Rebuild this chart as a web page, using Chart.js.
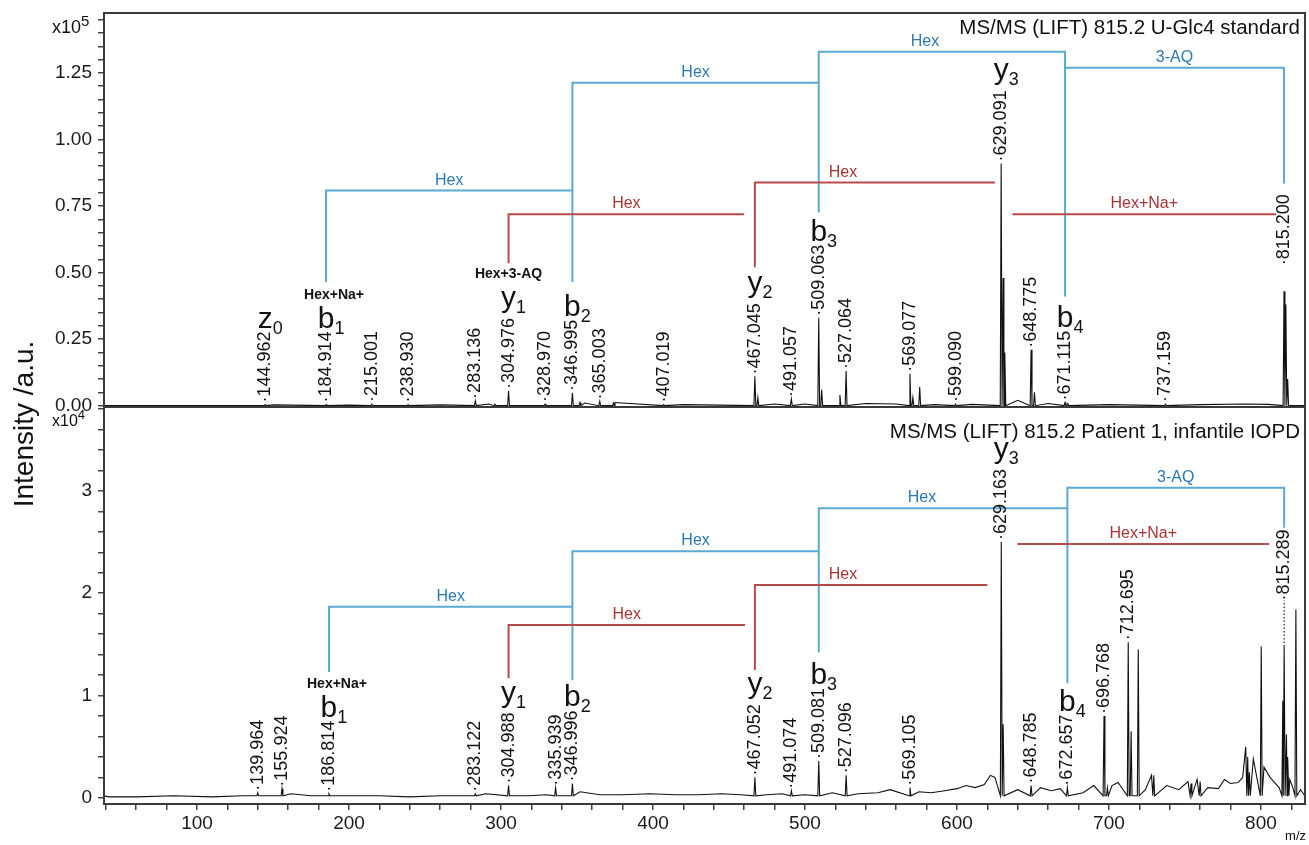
<!DOCTYPE html>
<html>
<head>
<meta charset="utf-8">
<script src="https://cdn.jsdelivr.net/npm/chart.js"></script>
<style>
body { margin: 0; background: #fff; }
#wrap { position: relative; width: 1309px; height: 845px; }
canvas { position: absolute; left: 0; top: 0; }
</style>
</head>
<body>
<div id="wrap">
<canvas id="cnv_top" width="1309" height="845"></canvas>
<canvas id="cnv_bottom" width="1309" height="845"></canvas>
</div>
<script>
const FONT = '"Liberation Sans", Arial, Helvetica, sans-serif'
const BLUE_LINE = '#5aaad3', BLUE_TEXT = '#2b78b4'
const RED_LINE = '#b94a4a', RED_TEXT = '#a93434'

const mzMin = 38.8
const mzMax = 829

// upper spectrum, U-Glc4 standard (x10^5)
const topLabelMz = [144.962, 184.914, 215.001, 238.930, 283.136, 304.976, 328.970, 346.995, 365.003, 407.019,
    467.045, 491.057, 509.063, 527.064, 569.077, 599.090, 629.091, 648.775, 671.115, 737.159, 815.200]
const topLabelInt = [0.004, 0.004, 0.006, 0.004, 0.018, 0.055, 0.006, 0.048, 0.016, 0.004,
    0.11, 0.025, 0.33, 0.13, 0.12, 0.006, 0.91, 0.21, 0.012, 0.006, 0.43]
const topOtherMz = [296, 352, 374, 469, 511, 523, 571, 575.5, 630.4, 631.5, 651, 673, 816.4, 817.6]
const topOtherInt = [0.006, 0.012, 0.01, 0.03, 0.06, 0.04, 0.03, 0.07, 0.48, 0.2, 0.05, 0.008, 0.38, 0.1]
const topNoiseMz = [150, 200, 260, 292, 355, 375, 420, 480, 500, 540, 560, 585, 610, 640, 660, 700, 760, 790, 805]
const topNoiseInt = [0.003, 0.002, 0.003, 0.006, 0.01, 0.012, 0.004, 0.006, 0.006, 0.008, 0.006, 0.004, 0.005, 0.02, 0.008, 0.004, 0.004, 0.006, 0.005]

// lower spectrum, patient 1 (x10^4)
const botLabelMz = [139.964, 155.924, 186.814, 283.122, 304.988, 335.939, 346.996, 467.052, 491.074, 509.081,
    527.096, 569.105, 629.163, 648.785, 672.657, 696.768, 712.695, 815.289]
const botLabelInt = [0.05, 0.09, 0.04, 0.04, 0.12, 0.1, 0.14, 0.2, 0.07, 0.36,
    0.22, 0.1, 2.5, 0.12, 0.1, 0.8, 1.52, 1.48]
const botOtherMz = [630.4, 699, 714.6, 719.3, 729.5, 754, 760, 791.3, 792.4, 800.2, 814.4, 816.8, 817.8, 823.0]
const botOtherInt = [0.72, 0.1, 0.65, 1.45, 0.22, 0.14, 0.16, 0.4, 0.25, 1.48, 0.95, 0.62, 0.4, 1.84]
const botNoiseMz = [42, 60, 85, 110, 130, 145, 162, 175, 200, 220, 240, 260, 275, 290, 318, 330, 352, 365, 380, 398,
    415, 430, 445, 458, 475, 485, 500, 518, 535, 548, 556, 575, 583, 592, 600, 606, 612, 618, 622, 625,
    640, 655, 662, 668, 683, 690, 702, 706, 724, 728, 738, 746, 752, 758, 765, 772, 776, 780, 785, 788,
    790, 795, 802, 806, 809, 812, 819, 821, 826]
const botNoiseInt = [0.01, 0.01, 0.02, 0.01, 0.02, 0.02, 0.04, 0.02, 0.02, 0.02, 0.01, 0.02, 0.02, 0.04, 0.02, 0.03, 0.06, 0.03, 0.03, 0.04,
    0.03, 0.03, 0.04, 0.03, 0.03, 0.04, 0.03, 0.05, 0.04, 0.05, 0.08, 0.06, 0.05, 0.07, 0.09, 0.12, 0.1, 0.13, 0.22, 0.2,
    0.08, 0.1, 0.07, 0.09, 0.05, 0.12, 0.12, 0.15, 0.08, 0.22, 0.12, 0.08, 0.16, 0.18, 0.1, 0.09, 0.18, 0.14, 0.15, 0.2,
    0.5, 0.38, 0.3, 0.2, 0.15, 0.1, 0.18, 0.1, 0.08]

// fragment ladders (levels in panel units)
const topBrackets = [
    { from: 184.914, to: 346.995, level: 0.808, fromBase: 0.465, color: 'blue', text: 'Hex' },
    { from: 346.995, to: 509.063, level: 1.213, fromBase: 0.465, color: 'blue', text: 'Hex' },
    { from: 509.063, to: 671.115, level: 1.329, fromBase: 0.726, toBase: 1.269, color: 'blue', text: 'Hex', at: 579 },
    { from: 671.115, to: 815.2, level: 1.269, fromBase: 0.41, toBase: 0.835, color: 'blue', text: '3-AQ' },
    { from: 304.976, to: 460, level: 0.719, fromBase: 0.535, color: 'red', text: 'Hex' },
    { from: 467.045, to: 625, level: 0.838, fromBase: 0.52, color: 'red', text: 'Hex', at: 525 },
    { from: 636.5, to: 810, level: 0.719, color: 'red', text: 'Hex+Na+' },
]
const botBrackets = [
    { from: 186.814, to: 346.996, level: 1.867, fromBase: 1.23, color: 'blue', text: 'Hex' },
    { from: 346.996, to: 509.081, level: 2.41, fromBase: 1.15, color: 'blue', text: 'Hex' },
    { from: 509.081, to: 672.657, level: 2.83, fromBase: 1.42, color: 'blue', text: 'Hex', at: 577 },
    { from: 672.657, to: 815.289, level: 3.03, fromBase: 1.12, toBase: 2.64, color: 'blue', text: '3-AQ' },
    { from: 304.988, to: 460.5, level: 1.69, fromBase: 1.17, color: 'red', text: 'Hex' },
    { from: 467.052, to: 620, level: 2.08, fromBase: 1.25, color: 'red', text: 'Hex', at: 525 },
    { from: 639.7, to: 805.5, level: 2.48, color: 'red', text: 'Hex+Na+' },
]
const topIons = [
    { ion: 'z', sub: '0', mz: 144.962 },
    { ion: 'b', sub: '1', mz: 184.914, pre: 'Hex+Na+', preDx: 8 },
    { ion: 'y', sub: '1', mz: 304.976, pre: 'Hex+3-AQ', preDx: 0 },
    { ion: 'b', sub: '2', mz: 346.995 },
    { ion: 'y', sub: '2', mz: 467.045 },
    { ion: 'b', sub: '3', mz: 509.063 },
    { ion: 'y', sub: '3', mz: 629.091 },
    { ion: 'b', sub: '4', mz: 671.115 },
]
const botIons = [
    { ion: 'b', sub: '1', mz: 186.814, pre: 'Hex+Na+', preDx: 8 },
    { ion: 'y', sub: '1', mz: 304.988 },
    { ion: 'b', sub: '2', mz: 346.996 },
    { ion: 'y', sub: '2', mz: 467.052 },
    { ion: 'b', sub: '3', mz: 509.081 },
    { ion: 'y', sub: '3', mz: 629.163 },
    { ion: 'b', sub: '4', mz: 672.657 },
]

const buildTrace = (peakMz, peakInt, noiseMz, noiseInt, foot) => {
    const pts = [{ x: mzMin, y: foot }, { x: mzMax, y: foot }]
    peakMz.forEach((m, i) => {
        pts.push({ x: m - 0.6, y: foot }, { x: m, y: peakInt[i] }, { x: m + 0.6, y: foot })
    })
    noiseMz.forEach((m, i) => pts.push({ x: m, y: noiseInt[i] }))
    return pts.sort((a, b) => a.x - b.x)
}

const spectrumAnnotations = (panel) => ({
    id: 'spectrumAnnotations',
    afterDatasetsDraw(chart) {
        const { ctx } = chart
        const xs = chart.scales.x, ys = chart.scales.y
        ctx.save()
        // brackets
        panel.brackets.forEach(b => {
            const x1 = xs.getPixelForValue(b.from), x2 = xs.getPixelForValue(b.to)
            const yl = ys.getPixelForValue(b.level)
            ctx.strokeStyle = b.color === 'blue' ? BLUE_LINE : RED_LINE
            ctx.lineWidth = 2
            ctx.beginPath()
            if (b.fromBase != null) {
                ctx.moveTo(x1, ys.getPixelForValue(b.fromBase))
                ctx.lineTo(x1, yl)
            } else {
                ctx.moveTo(x1, yl)
            }
            ctx.lineTo(x2, yl)
            if (b.toBase != null) ctx.lineTo(x2, ys.getPixelForValue(b.toBase))
            ctx.stroke()
            ctx.fillStyle = b.color === 'blue' ? BLUE_TEXT : RED_TEXT
            ctx.font = `16px ${FONT}`
            ctx.textAlign = 'center'
            ctx.textBaseline = 'alphabetic'
            const lx = b.at != null ? xs.getPixelForValue(b.at) : (x1 + x2) / 2
            ctx.fillText(b.text, lx, yl - 6)
        })
        // peak labels
        const labelTop = {}
        ctx.fillStyle = '#111'
        panel.labelMz.forEach((m, i) => {
            const lift = panel.lift[m] || 0
            const px = xs.getPixelForValue(m)
            const peakY = ys.getPixelForValue(panel.labelInt[i])
            const startY = ys.getPixelForValue(panel.labelInt[i] + lift) - 2
            if (lift && panel.dotted) {
                ctx.strokeStyle = '#222'
                ctx.lineWidth = 1.2
                ctx.setLineDash([1.5, 2])
                ctx.beginPath()
                ctx.moveTo(px, peakY)
                ctx.lineTo(px, startY)
                ctx.stroke()
                ctx.setLineDash([])
            }
            ctx.font = `18px ${FONT}`
            const txt = '·' + m.toFixed(3)
            const w = ctx.measureText(txt).width
            ctx.save()
            ctx.translate(px, startY)
            ctx.rotate(-Math.PI / 2)
            ctx.textAlign = 'left'
            ctx.textBaseline = 'middle'
            ctx.fillText(txt, 0, 0)
            ctx.restore()
            labelTop[m] = startY - w
        })
        // ion names
        panel.ions.forEach(ion => {
            const px = xs.getPixelForValue(ion.mz)
            const base = labelTop[ion.mz] - 4 - (ion.ion === 'y' ? 7 : 0)
            ctx.font = `30px ${FONT}`
            ctx.textAlign = 'center'
            ctx.textBaseline = 'alphabetic'
            const w = ctx.measureText(ion.ion).width
            ctx.fillText(ion.ion, px, base)
            ctx.font = `18px ${FONT}`
            ctx.textAlign = 'left'
            ctx.fillText(ion.sub, px + w / 2, base + 6)
            if (ion.pre) {
                ctx.font = `bold 14px ${FONT}`
                ctx.textAlign = 'center'
                ctx.fillText(ion.pre, px + ion.preDx, base - 29)
            }
        })
        ctx.restore()
    },
    afterDraw(chart) {
        const { ctx, chartArea } = chart
        ctx.save()
        ctx.strokeStyle = '#3a3a3a'
        ctx.lineWidth = 2
        ctx.strokeRect(chartArea.left, chartArea.top, chartArea.right - chartArea.left, chartArea.bottom - chartArea.top)
        ctx.fillStyle = '#111'
        ctx.font = `20.5px ${FONT}`
        ctx.textAlign = 'right'
        ctx.textBaseline = 'alphabetic'
        ctx.fillText(panel.title, 1300, panel.titleY)
        // exponent
        ctx.textAlign = 'left'
        ctx.font = `${panel.expSize}px ${FONT}`
        ctx.fillText('x10', 52, panel.expY)
        const w = ctx.measureText('x10').width
        ctx.font = `${panel.expSize - 3}px ${FONT}`
        ctx.fillText(panel.exp, 52 + w, panel.expY - 7)
        if (panel.axisTitle) {
            ctx.font = `28px ${FONT}`
            ctx.textAlign = 'center'
            ctx.save()
            ctx.translate(33, 424)
            ctx.rotate(-Math.PI / 2)
            ctx.fillText('Intensity /a.u.', 0, 0)
            ctx.restore()
            ctx.font = `13px ${FONT}`
            ctx.textAlign = 'right'
            ctx.fillText('m/z', 1306, 840)
        }
        ctx.restore()
    }
})

const makeSpectrum = (canvasId, opts) => {
    const ctx = document.getElementById(canvasId).getContext('2d')
    return new Chart(ctx, {
        type: 'line',
        plugins: [spectrumAnnotations(opts.panel)],
        data: {
            datasets: [{
                data: opts.trace,
                borderColor: '#111',
                borderWidth: 1.1,
                pointRadius: 0,
                tension: 0,
                fill: false
            }]
        },
        options: {
            responsive: false,
            animation: false,
            events: [],
            layout: { padding: opts.padding },
            plugins: { legend: { display: false }, tooltip: { enabled: false } },
            scales: {
                x: {
                    type: 'linear',
                    min: mzMin,
                    max: mzMax,
                    display: opts.showX,
                    afterBuildTicks: scale => {
                        scale.ticks = []
                        for (let v = 40; v <= 820; v += 20) scale.ticks.push({ value: v })
                    },
                    afterFit: scale => {
                        scale.height = opts.showX ? 41 : 0
                        scale.paddingLeft = 0
                        scale.paddingRight = 0
                    },
                    ticks: {
                        autoSkip: false,
                        maxRotation: 0,
                        padding: 2,
                        color: '#1a1a1a',
                        font: { family: FONT, size: 19 },
                        callback: v => (v % 100 === 0 ? String(v) : '')
                    },
                    grid: { drawOnChartArea: false, tickLength: 6, color: '#444', lineWidth: 1.5 },
                    border: { display: false }
                },
                y: {
                    min: opts.yMin,
                    max: opts.yMax,
                    afterBuildTicks: scale => {
                        scale.ticks = []
                        for (let i = 0; i <= opts.nTicks; i++) scale.ticks.push({ value: Math.round(i * opts.minorStep * 1000) / 1000 })
                    },
                    afterFit: scale => {
                        scale.width = 104
                        scale.paddingTop = 0
                        scale.paddingBottom = 0
                    },
                    ticks: {
                        autoSkip: false,
                        padding: 6,
                        color: '#1a1a1a',
                        font: { family: FONT, size: 19 },
                        callback: (v, idx) => (idx % opts.majorEvery === 0 ? v.toFixed(opts.decimals) : '')
                    },
                    grid: { drawOnChartArea: false, tickLength: 6, color: '#444', lineWidth: 1.5 },
                    border: { display: false }
                }
            }
        }
    })
}

const topChart = makeSpectrum('cnv_top', {
    trace: buildTrace(topLabelMz.concat(topOtherMz), topLabelInt.concat(topOtherInt), topNoiseMz, topNoiseInt, 0),
    padding: { top: 13, right: 4, bottom: 438, left: 0 },
    showX: false,
    yMin: -0.005, yMax: 1.475, nTicks: 29, minorStep: 0.05, majorEvery: 5, decimals: 2,
    panel: {
        labelMz: topLabelMz, labelInt: topLabelInt, lift: { 815.2: 0.09 }, dotted: false,
        brackets: topBrackets, ions: topIons,
        title: 'MS/MS (LIFT) 815.2 U-Glc4 standard', titleY: 34,
        exp: '5', expY: 33, expSize: 18
    }
})

const bottomChart = makeSpectrum('cnv_bottom', {
    trace: buildTrace(botLabelMz.concat(botOtherMz), botLabelInt.concat(botOtherInt), botNoiseMz, botNoiseInt, 0.02),
    padding: { top: 407, right: 4, bottom: 0, left: 0 },
    showX: true,
    yMin: -0.06, yMax: 3.82, nTicks: 19, minorStep: 0.2, majorEvery: 5, decimals: 0,
    panel: {
        labelMz: botLabelMz, labelInt: botLabelInt, lift: { 815.289: 0.43 }, dotted: true,
        brackets: botBrackets, ions: botIons,
        title: 'MS/MS (LIFT) 815.2 Patient 1, infantile IOPD', titleY: 438,
        exp: '4', expY: 426, expSize: 16, axisTitle: true
    }
})
</script>
</body>
</html>
